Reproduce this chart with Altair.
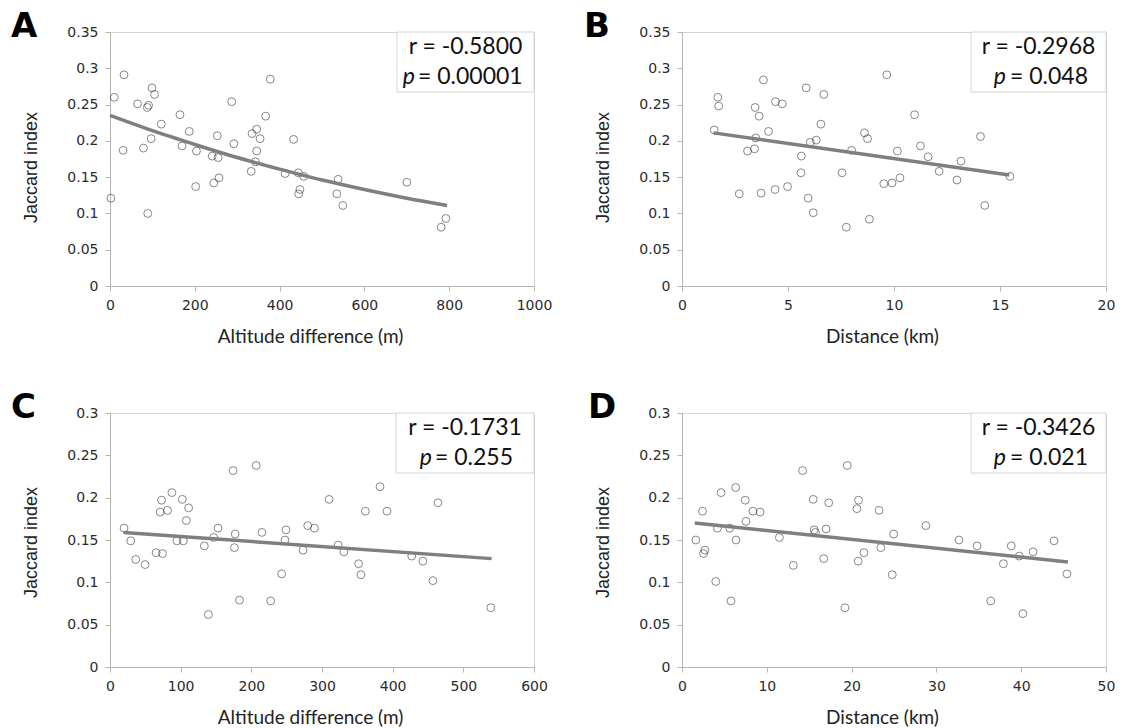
import altair as alt
import pandas as pd

# ---------------- data ----------------
a_x = [2, 10, 33, 31, 65, 79, 88, 91, 89, 99, 105, 97, 121, 165, 170, 187, 204, 202, 241, 255,
       253, 245, 257, 287, 292, 333, 335, 346, 354, 346, 343, 367, 378, 413, 433, 444, 457, 448,
       445, 535, 538, 549, 700, 781, 792]
a_y = [0.121, 0.260, 0.291, 0.187, 0.251, 0.190, 0.246, 0.249, 0.100, 0.273, 0.264, 0.203, 0.223,
       0.236, 0.193, 0.213, 0.186, 0.137, 0.179, 0.177, 0.207, 0.142, 0.149, 0.254, 0.196, 0.158,
       0.210, 0.216, 0.203, 0.186, 0.171, 0.234, 0.285, 0.155, 0.202, 0.156, 0.151, 0.133, 0.127,
       0.127, 0.147, 0.111, 0.143, 0.081, 0.093]
a_trend_x = [0, 100, 200, 300, 400, 500, 600, 700, 795]
a_trend_y = [0.235, 0.214, 0.195, 0.177, 0.161, 0.146, 0.133, 0.121, 0.111]

b_x = [1.52, 1.69, 1.73, 2.70, 3.09, 3.42, 3.45, 3.48, 3.64, 3.84, 3.73, 4.08, 4.39, 4.41, 4.73,
       4.98, 5.63, 5.61, 5.86, 5.95, 6.05, 6.19, 6.33, 6.55, 6.69, 7.55, 7.75, 8.00, 8.61, 8.75,
       8.84, 9.52, 9.66, 9.91, 10.16, 10.28, 10.97, 11.25, 11.61, 12.13, 12.97, 13.16, 14.08,
       14.28, 15.47]
b_y = [0.215, 0.260, 0.248, 0.127, 0.186, 0.189, 0.246, 0.204, 0.234, 0.284, 0.128, 0.213, 0.133,
       0.254, 0.251, 0.137, 0.179, 0.156, 0.273, 0.121, 0.198, 0.101, 0.201, 0.223, 0.264, 0.156,
       0.081, 0.187, 0.211, 0.203, 0.092, 0.141, 0.291, 0.142, 0.186, 0.149, 0.236, 0.193, 0.178,
       0.158, 0.146, 0.172, 0.206, 0.111, 0.151]
b_trend_x = [1.48, 15.44]
b_trend_y = [0.211, 0.153]

c_x = [19.9, 29.4, 36.5, 49.7, 65.3, 74.3, 71.0, 72.9, 81.4, 87.6, 94.7, 102.3, 103.7, 108, 111.3,
       133.5, 139.2, 146.8, 152.9, 174.2, 177.1, 176.1, 183.2, 206.9, 215, 227.3, 242.9, 247.6,
       249, 273.2, 279.8, 289.3, 310.1, 322.9, 331, 351.8, 355.1, 361.3, 382.1, 392, 427, 442.7,
       456.9, 464, 538.8]
c_y = [0.164, 0.149, 0.127, 0.121, 0.135, 0.134, 0.183, 0.197, 0.185, 0.206, 0.149, 0.198, 0.149,
       0.173, 0.188, 0.143, 0.062, 0.153, 0.164, 0.232, 0.157, 0.141, 0.079, 0.238, 0.159, 0.078,
       0.110, 0.150, 0.162, 0.138, 0.167, 0.164, 0.198, 0.144, 0.136, 0.122, 0.109, 0.184, 0.213,
       0.184, 0.131, 0.125, 0.102, 0.194, 0.070]
c_trend_x = [19, 540]
c_trend_y = [0.159, 0.128]

d_x = [1.64, 2.42, 2.54, 2.70, 3.98, 4.18, 4.61, 5.63, 5.78, 6.33, 6.37, 7.46, 7.54, 8.36, 9.22,
       11.48, 13.13, 14.22, 15.47, 15.59, 15.74, 16.72, 16.99, 17.30, 19.22, 19.49, 20.63, 20.82,
       20.78, 21.45, 23.24, 23.44, 24.8, 24.96, 28.75, 32.66, 34.8, 36.4, 37.9, 38.83, 39.77,
       40.2, 41.4, 43.87, 45.4]
d_y = [0.150, 0.184, 0.134, 0.138, 0.101, 0.164, 0.206, 0.164, 0.078, 0.212, 0.150, 0.197, 0.172,
       0.184, 0.183, 0.153, 0.120, 0.232, 0.198, 0.162, 0.159, 0.128, 0.163, 0.194, 0.070, 0.238,
       0.187, 0.197, 0.125, 0.135, 0.185, 0.141, 0.109, 0.157, 0.167, 0.150, 0.143, 0.078, 0.122,
       0.143, 0.131, 0.063, 0.136, 0.149, 0.110]
d_trend_x = [1.5, 45.5]
d_trend_y = [0.170, 0.124]

letters = ["A", "B", "C", "D"]
x_titles = ["Altitude difference (m)", "Distance (km)", "Altitude difference (m)", "Distance (km)"]
r_texts = ["r = -0.5800", "r = -0.2968", "r = -0.1731", "r = -0.3426"]
p_texts = ["= 0.00001", "= 0.048", "= 0.255", "= 0.021"]
y_ticks_top = [0, 0.05, 0.1, 0.15, 0.2, 0.25, 0.3, 0.35]
y_ticks_bottom = [0, 0.05, 0.1, 0.15, 0.2, 0.25, 0.3]
x_ticks_a = [0, 200, 400, 600, 800, 1000]
x_ticks_b = [0, 5, 10, 15, 20]
x_ticks_c = [0, 100, 200, 300, 400, 500, 600]
x_ticks_d = [0, 10, 20, 30, 40, 50]

W, H = 424, 254
FT = "Lato"
FL = "DejaVu Sans"
FY = "Liberation Sans"


def panel(letter, letter_dx, xs, ys, tx, ty, xticks, xtitle, yticks, ytitle_dy, r_txt, p_txt,
          box_w, p_right, eq_left):
    pts = pd.DataFrame({"x": xs, "y": ys})
    tr = pd.DataFrame({"x": tx, "y": ty})
    one = pd.DataFrame({"k": [0]})
    xsc = alt.Scale(domain=[xticks[0], xticks[-1]], nice=False, zero=False)
    ysc = alt.Scale(domain=[yticks[0], yticks[-1]], nice=False)
    xax = alt.Axis(values=xticks, format="d", title=xtitle, grid=False, labelFlush=False,
                   labelPadding=7, titlePadding=15, titleX=W / 2 - 12, tickCount=20)
    yax = alt.Axis(values=yticks, format=".2~f", title="Jaccard index", grid=False,
                   labelPadding=7, titlePadding=26, tickCount=20, titleFont=FY,
                   titleFontSize=18, titleY=H / 2 + ytitle_dy)
    points = alt.Chart(pts).mark_point(
        shape="circle", filled=False, size=62, stroke="#2a2a2a", strokeWidth=0.8
    ).encode(x=alt.X("x:Q", scale=xsc, axis=xax), y=alt.Y("y:Q", scale=ysc, axis=yax))
    line = alt.Chart(tr).mark_line(
        color="#7f7f7f", strokeWidth=3.5, interpolate="monotone"
    ).encode(x="x:Q", y="y:Q")
    box = alt.Chart(one).mark_rect(fill="white", stroke="#d4d4d4", strokeWidth=1).encode(
        x=alt.value(W - box_w), x2=alt.value(W), y=alt.value(0), y2=alt.value(60))
    t1 = alt.Chart(one).mark_text(
        text=r_txt, font=FT, fontSize=23, align="center", baseline="middle", color="#111"
    ).encode(x=alt.value(W - box_w / 2), y=alt.value(15))
    tp = alt.Chart(one).mark_text(
        text="p", font=FT, fontSize=23, fontStyle="italic", align="right", baseline="middle",
        color="#111"
    ).encode(x=alt.value(W + p_right), y=alt.value(45))
    tq = alt.Chart(one).mark_text(
        text=p_txt, font=FT, fontSize=23, align="left", baseline="middle", color="#111"
    ).encode(x=alt.value(W + eq_left), y=alt.value(45))
    lt = alt.Chart(one).mark_text(
        text=letter, font="DejaVu Sans", fontSize=34, fontWeight="bold", align="left",
        baseline="alphabetic", color="#000"
    ).encode(x=alt.value(letter_dx), y=alt.value(5))
    return alt.layer(points, line, box, t1, tp, tq, lt).properties(width=W, height=H)


pa = panel(letters[0], -99, a_x, a_y, a_trend_x, a_trend_y, x_ticks_a, x_titles[0], y_ticks_top,
           8, r_texts[0], p_texts[0], 137, -119, -116)
pb = panel(letters[1], -98, b_x, b_y, b_trend_x, b_trend_y, x_ticks_b, x_titles[1], y_ticks_top,
           8, r_texts[1], p_texts[1], 135, -100, -96)
pc = panel(letters[2], -99, c_x, c_y, c_trend_x, c_trend_y, x_ticks_c, x_titles[2],
           y_ticks_bottom, 2, r_texts[2], p_texts[2], 138, -102, -99)
pd_ = panel(letters[3], -94, d_x, d_y, d_trend_x, d_trend_y, x_ticks_d, x_titles[3],
            y_ticks_bottom, 2, r_texts[3], p_texts[3], 135, -100, -96)

chart = alt.concat(
    pa, pb, pc, pd_, columns=2, spacing=alt.RowColnumber(row=127, column=148), bounds="flush"
).properties(
    padding={"left": 2, "top": 1, "right": 0, "bottom": 0}, background="white"
).configure_view(
    stroke="#d4d4d4", strokeWidth=1
).configure_axis(
    labelFont=FL, labelFontSize=14, labelColor="#2b2b2b",
    titleFont=FT, titleFontSize=19, titleColor="#222222", titleFontWeight="normal",
    domainColor="#b5b5b5", tickColor="#b5b5b5", tickSize=5
)

chart.save("out.html", embed_options={"renderer": "svg", "actions": False})
